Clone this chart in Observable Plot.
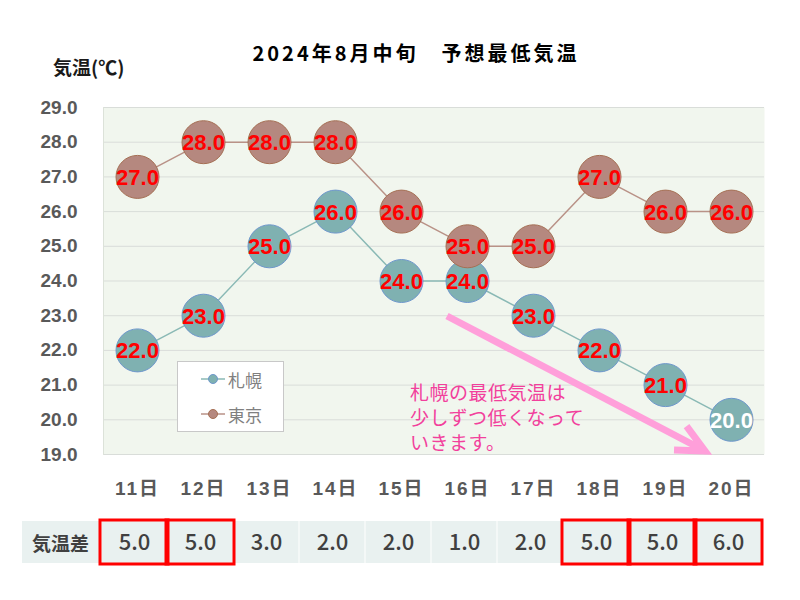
<!DOCTYPE html>
<html>
<head>
<meta charset="utf-8">
<script src="https://cdn.jsdelivr.net/npm/d3@7"></script>
<script src="https://cdn.jsdelivr.net/npm/@observablehq/plot@0.6"></script>
<style>
  body { margin: 0; background: #fff; }
  #wrap { position: relative; width: 800px; height: 600px; overflow: hidden; font-family: "Liberation Sans", "Noto Sans CJK JP", sans-serif; }
  .abs { position: absolute; }
  #title { left: 216px; top: 40px; width: 400px; text-align: center; font-family: "Noto Sans CJK JP", sans-serif; font-weight: bold; font-size: 20px; line-height: 26px; letter-spacing: 3px; color: #000; }
  #ylab { left: 53px; top: 54px; font-family: "Noto Sans CJK JP", sans-serif; font-weight: bold; font-size: 19px; line-height: 26px; color: #1a1a1a; }
  #diffLabel { left: 22px; top: 521px; width: 77px; height: 42px; background: #e9f1f0; display: flex; align-items: center; justify-content: center; font-family: "Noto Sans CJK JP", sans-serif; font-weight: bold; font-size: 19px; color: #404040; }
  #legend { left: 177px; top: 361px; width: 105px; height: 69px; background: #fff; border: 1px solid #c8c8c8; }
  #note { left: 410px; top: 379px; font-family: "Noto Sans CJK JP", sans-serif; font-size: 19px; line-height: 25px; color: #f2409c; white-space: pre; letter-spacing: 0.5px; }
  svg { overflow: visible; }
  g[aria-label="x-axis tick label"] text { letter-spacing: 2px; }
</style>
</head>
<body>
<div id="wrap">
  <div id="main" class="abs" style="left:0;top:0"></div>
  <div id="title" class="abs">2024年8月中旬　予想最低気温</div>
  <div id="ylab" class="abs">気温(℃)</div>
  <div id="legend" class="abs"></div>
  <div id="note" class="abs"></div>
  <svg id="arrow" class="abs" width="800" height="600" style="left:0;top:0;pointer-events:none"></svg>
  <div id="diffLabel" class="abs">気温差</div>
  <div id="table" class="abs" style="left:0;top:515px"></div>
</div>
<script>
// ---- data ----
const days = ["11日","12日","13日","14日","15日","16日","17日","18日","19日","20日"];
const sapporo = [22, 23, 25, 26, 24, 24, 23, 22, 21, 20];
const tokyo   = [27, 28, 28, 28, 26, 25, 25, 27, 26, 26];
const diffs   = [5, 5, 3, 2, 2, 1, 2, 5, 5, 6];
const boxed   = [true, true, false, false, false, false, false, true, true, true];
const seriesNames = ["札幌", "東京"];
const yTicks = [19, 20, 21, 22, 23, 24, 25, 26, 27, 28, 29];
const noteText = "札幌の最低気温は\n少しずつ低くなって\nいきます。";

const colors = {
  "札幌": {fill: "#7fb1b1", stroke: "#6e97cc", line: "#8ab9b5"},
  "東京": {fill: "#b5887f", stroke: "#a56f54", line: "#b99287"}
};

const rowsS = days.map((day, i) => ({day, v: sapporo[i], series: "札幌"}));
const rowsT = days.map((day, i) => ({day, v: tokyo[i], series: "東京"}));
const allRows = rowsS.concat(rowsT);
const fmt = d => d.toFixed(1);
const isWhite = d => d.series === "札幌" && d.day === days[days.length - 1];

const font = "'Liberation Sans','Noto Sans CJK JP',sans-serif";

const main = Plot.plot({
  width: 800, height: 510,
  marginLeft: 103, marginRight: 36, marginTop: 107, marginBottom: 56,
  style: {fontFamily: font, background: "transparent", overflow: "visible"},
  x: {domain: days, type: "point", padding: 0.5},
  y: {domain: [19, 29]},
  marks: [
    Plot.frame({fill: "#f1f6ee", stroke: null}),
    Plot.gridY(yTicks, {stroke: "#d9ddd9", strokeOpacity: 1}),
    Plot.frame({anchor: "left", stroke: "#dce2d9"}),
    Plot.axisY({ticks: yTicks, tickFormat: fmt, tickSize: 0, tickPadding: 26, fontSize: 19, fontWeight: "bold", fill: "#595959", label: null}),
    Plot.axisX({tickSize: 0, tickPadding: 27, fontSize: 19, fontWeight: "bold", fill: "#595959", label: null}),
    Plot.line(rowsS, {x: "day", y: "v", stroke: colors["札幌"].line, strokeWidth: 1.5}),
    Plot.line(rowsT, {x: "day", y: "v", stroke: colors["東京"].line, strokeWidth: 1.5}),
    Plot.dot(rowsS, {x: "day", y: "v", r: 21.5, fill: colors["札幌"].fill, stroke: colors["札幌"].stroke, strokeWidth: 1}),
    Plot.dot(rowsT, {x: "day", y: "v", r: 21.5, fill: colors["東京"].fill, stroke: colors["東京"].stroke, strokeWidth: 1}),
    Plot.text(allRows.filter(d => !isWhite(d)), {x: "day", y: "v", text: d => fmt(d.v), fill: "#ff0000", fontSize: 22, fontWeight: "bold", dy: 1}),
    Plot.text(allRows.filter(isWhite), {x: "day", y: "v", text: d => fmt(d.v), fill: "#ffffff", fontSize: 22, fontWeight: "bold", dy: 1})
  ]
});
document.getElementById("main").appendChild(main);

// ---- difference table ----
const tableRows = days.map((day, i) => ({day, diff: diffs[i], boxed: boxed[i]}));
const table = Plot.plot({
  width: 800, height: 55,
  marginLeft: 100, marginRight: 38, marginTop: 6, marginBottom: 7,
  style: {fontFamily: font, background: "transparent", overflow: "visible"},
  x: {domain: days, padding: 0, axis: null},
  marks: [
    Plot.cell(tableRows, {x: "day", fill: "#e9f1f0", insetLeft: 0.5, insetRight: 0.5}),
    Plot.text(tableRows, {x: "day", text: d => fmt(d.diff), frameAnchor: "middle", fontSize: 22, fontWeight: 500, fontFamily: "'Noto Sans CJK JP',sans-serif", fill: "#404040", dy: 0}),
    Plot.cell(tableRows.filter(d => d.boxed), {x: "day", fill: "none", stroke: "#ff0000", strokeWidth: 3, inset: -1})
  ]
});
document.getElementById("table").appendChild(table);

// ---- legend ----
const leg = d3.select("#legend");
seriesNames.forEach((name, i) => {
  const item = leg.append("div")
    .style("position", "absolute").style("left", "22px").style("top", (5 + i * 35) + "px")
    .style("height", "24px").style("display", "flex").style("align-items", "center");
  const s = item.append("svg").attr("width", 26).attr("height", 24);
  s.append("line").attr("x1", 1).attr("x2", 25).attr("y1", 12).attr("y2", 12)
    .attr("stroke", colors[name].line).attr("stroke-width", 1.5);
  s.append("circle").attr("cx", 13).attr("cy", 12).attr("r", 4.5)
    .attr("fill", colors[name].fill).attr("stroke", colors[name].stroke);
  item.append("span").text(name)
    .style("font-family", "'Noto Sans CJK JP',sans-serif").style("font-size", "17px")
    .style("color", "#808080").style("margin-left", "2px");
});

// ---- annotation ----
document.getElementById("note").textContent = noteText;
const arr = d3.select("#arrow");
const start = [447, 316], tip = [705, 451];
const ang = Math.atan2(tip[1] - start[1], tip[0] - start[0]);
const hl = 31, spread = 0.45;
const a1 = [tip[0] - hl * Math.cos(ang - spread), tip[1] - hl * Math.sin(ang - spread)];
const a2 = [tip[0] - hl * Math.cos(ang + spread), tip[1] - hl * Math.sin(ang + spread)];
arr.append("path")
  .attr("d", `M${start}L${tip}M${a1}L${tip}L${a2}`)
  .attr("fill", "none").attr("stroke", "#ff9fda").attr("stroke-width", 7)
  .attr("stroke-linejoin", "miter");
</script>
</body>
</html>
